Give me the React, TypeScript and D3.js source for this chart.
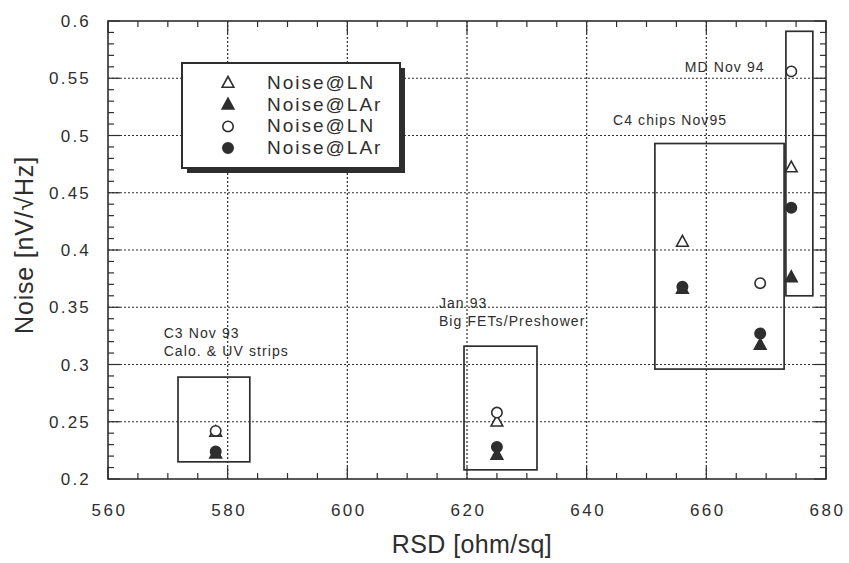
import React from "react";
import * as d3 from "d3";

const xTicks = [560, 580, 600, 620, 640, 660, 680];
const yTicks = [0.2, 0.25, 0.3, 0.35, 0.4, 0.45, 0.5, 0.55, 0.6];
const yTickLabels = ["0.2", "0.25", "0.3", "0.35", "0.4", "0.45", "0.5", "0.55", "0.6"];

// series: open triangle (Noise@LN), filled triangle (Noise@LAr), open circle (Noise@LN), filled circle (Noise@LAr)
const openTri = [
  { x: 578, y: 0.241 },
  { x: 625, y: 0.25 },
  { x: 656, y: 0.407 },
  { x: 674.2, y: 0.472 },
];
const filledTri = [
  { x: 578, y: 0.222 },
  { x: 625, y: 0.221 },
  { x: 656, y: 0.366 },
  { x: 669, y: 0.317 },
  { x: 674.2, y: 0.376 },
];
const openCirc = [
  { x: 578, y: 0.242 },
  { x: 625, y: 0.258 },
  { x: 669, y: 0.371 },
  { x: 674.2, y: 0.556 },
];
const filledCirc = [
  { x: 578, y: 0.224 },
  { x: 625, y: 0.228 },
  { x: 656, y: 0.368 },
  { x: 669, y: 0.327 },
  { x: 674.2, y: 0.437 },
];

const groupBoxes = [
  { x0: 571.7, x1: 583.7, y0: 0.215, y1: 0.289 },
  { x0: 619.5, x1: 631.7, y0: 0.208, y1: 0.316 },
  { x0: 651.4, x1: 673.0, y0: 0.296, y1: 0.493 },
  { x0: 673.3, x1: 677.8, y0: 0.36, y1: 0.591 },
];

const groupLabels = [
  { x: 569.3, y: 0.3235, lines: ["C3 Nov 93", "Calo. & UV strips"] },
  { x: 615.3, y: 0.3495, lines: ["Jan 93", "Big FETs/Preshower"] },
  { x: 644.4, y: 0.509, lines: ["C4 chips Nov95"] },
  { x: 656.4, y: 0.5555, lines: ["MD Nov 94"] },
];

const legendItems = [
  { label: "Noise@LN", shape: "tri", filled: false },
  { label: "Noise@LAr", shape: "tri", filled: true },
  { label: "Noise@LN", shape: "circ", filled: false },
  { label: "Noise@LAr", shape: "circ", filled: true },
];

const W = 849;
const H = 563;
const L = 108;
const R = 826;
const T = 21;
const B = 479;
const INK = "#2e2e2e";
const FONT = "Liberation Sans, Arial, Helvetica, sans-serif";

function Marker({ cx, cy, shape, filled }: { cx: number; cy: number; shape: string; filled: boolean }) {
  if (shape === "tri") {
    const s = 6.5;
    const pts = `${cx},${cy - s} ${cx - s * 0.9},${cy + s * 0.65} ${cx + s * 0.9},${cy + s * 0.65}`;
    return (
      <polygon points={pts} fill={filled ? INK : "white"} stroke={INK} strokeWidth={1.6} />
    );
  }
  return <circle cx={cx} cy={cy} r={5.2} fill={filled ? INK : "white"} stroke={INK} strokeWidth={1.6} />;
}

export default function App() {
  const x = d3.scaleLinear().domain([560, 680]).range([L, R]);
  const y = d3.scaleLinear().domain([0.2, 0.6]).range([B, T]);
  const xMinor = d3.range(560, 680.01, 5);
  const yMinor = d3.range(0, 41).map((i) => 0.2 + i * 0.01);

  return (
    <svg width={W} height={H} style={{ display: "block", position: "absolute", left: 0, top: 0, background: "white" }}>
      <rect x={0} y={0} width={W} height={H} fill="white" />
      {/* grid */}
      {xTicks.slice(1, -1).map((t) => (
        <line key={"gx" + t} x1={x(t)} x2={x(t)} y1={T} y2={B} stroke={INK} strokeWidth={1.2} strokeDasharray="2,2" />
      ))}
      {yTicks.slice(1, -1).map((t) => (
        <line key={"gy" + t} x1={L} x2={R} y1={y(t)} y2={y(t)} stroke={INK} strokeWidth={1.2} strokeDasharray="2,2" />
      ))}
      {/* minor ticks */}
      {xMinor.map((t, i) => {
        const major = i % 4 === 0;
        const len = major ? 12 : 6;
        return (
          <g key={"xm" + i}>
            <line x1={x(t)} x2={x(t)} y1={B} y2={B - len} stroke={INK} strokeWidth={1.2} />
            <line x1={x(t)} x2={x(t)} y1={T} y2={T + len} stroke={INK} strokeWidth={1.2} />
          </g>
        );
      })}
      {yMinor.map((t, i) => {
        const major = i % 5 === 0;
        const len = major ? 12 : 6;
        return (
          <g key={"ym" + i}>
            <line x1={L} x2={L + len} y1={y(t)} y2={y(t)} stroke={INK} strokeWidth={1.2} />
            <line x1={R} x2={R - len} y1={y(t)} y2={y(t)} stroke={INK} strokeWidth={1.2} />
          </g>
        );
      })}
      <rect x={L} y={T} width={R - L} height={B - T} fill="none" stroke={INK} strokeWidth={1.6} />
      {/* tick labels */}
      {xTicks.map((t) => (
        <text key={"xl" + t} x={x(t) + 1.5} y={516} textAnchor="middle" fontFamily={FONT} fontSize={17} letterSpacing={2.5} fill={INK}>
          {t}
        </text>
      ))}
      {yTicks.map((t, i) => (
        <text key={"yl" + t} x={L - 17} y={y(t) + 6} textAnchor="end" fontFamily={FONT} fontSize={17} letterSpacing={2.2} fill={INK}>
          {yTickLabels[i]}
        </text>
      ))}
      <text x={472} y={553} textAnchor="middle" fontFamily={FONT} fontSize={25} letterSpacing={0.4} fill={INK}>
        RSD [ohm/sq]
      </text>
      <text
        transform={`translate(33, 245) rotate(-90)`}
        textAnchor="middle"
        fontFamily={FONT}
        fontSize={25}
        letterSpacing={0.8}
        fill={INK}
      >
        Noise [nV/√Hz]
      </text>
      {/* group boxes */}
      {groupBoxes.map((b, i) => (
        <rect
          key={"gb" + i}
          x={x(b.x0)}
          y={y(b.y1)}
          width={x(b.x1) - x(b.x0)}
          height={y(b.y0) - y(b.y1)}
          fill="none"
          stroke={INK}
          strokeWidth={1.7}
        />
      ))}
      {groupLabels.map((g, i) => (
        <text key={"gl" + i} x={x(g.x)} y={y(g.y)} fontFamily={FONT} fontSize={14} letterSpacing={1.1} fill={INK}>
          {g.lines.map((ln, j) => (
            <tspan key={j} x={x(g.x)} dy={j === 0 ? 0 : 18}>
              {ln}
            </tspan>
          ))}
        </text>
      ))}
      {/* points */}
      {filledTri.map((p, i) => (
        <Marker key={"ft" + i} cx={x(p.x)} cy={y(p.y)} shape="tri" filled={true} />
      ))}
      {openTri.map((p, i) => (
        <Marker key={"ot" + i} cx={x(p.x)} cy={y(p.y)} shape="tri" filled={false} />
      ))}
      {openCirc.map((p, i) => (
        <Marker key={"oc" + i} cx={x(p.x)} cy={y(p.y)} shape="circ" filled={false} />
      ))}
      {filledCirc.map((p, i) => (
        <Marker key={"fc" + i} cx={x(p.x)} cy={y(p.y)} shape="circ" filled={true} />
      ))}
      {/* legend */}
      <g>
        <rect x={187} y={68} width={218} height={105} fill={INK} />
        <rect x={182} y={63} width={218} height={105} fill="white" stroke={INK} strokeWidth={2} />
        {legendItems.map((it, i) => {
          const cy = 83 + i * 21.7;
          return (
            <g key={"lg" + i}>
              <Marker cx={228} cy={cy} shape={it.shape} filled={it.filled} />
              <text x={267} y={cy + 6} fontFamily={FONT} fontSize={19} fill={INK} letterSpacing={2}>
                {it.label}
              </text>
            </g>
          );
        })}
      </g>
    </svg>
  );
}
